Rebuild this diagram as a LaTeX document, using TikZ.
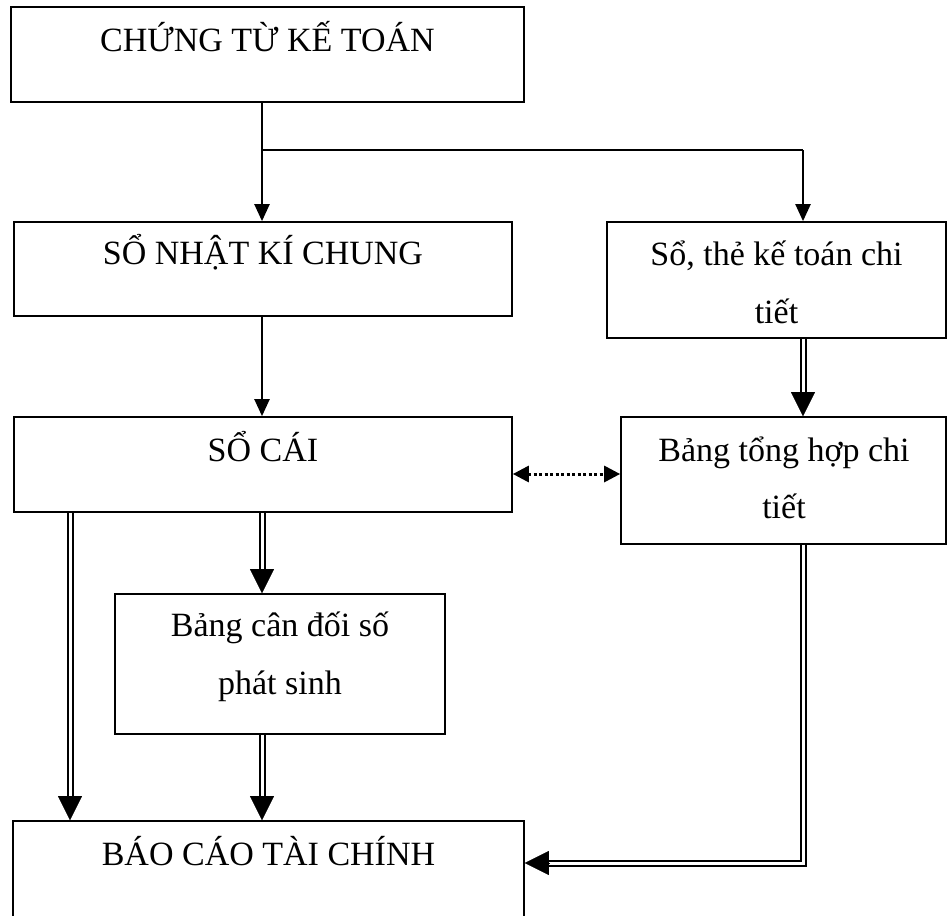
\documentclass[tikz,border=0pt]{standalone}
\usepackage{fontspec}
\setmainfont{Liberation Serif}
\usetikzlibrary{arrows.meta,calc}
\newcommand\dblarrow[2]{%
  \draw[dbl, shorten >=22pt] (#1) -- (#2);
  \draw[dtip] ($(#2)!24pt!(#1)$) -- (#2);}
\begin{document}
\begin{tikzpicture}[x=1pt,y=-1pt,
  box/.style={draw, line width=1.7pt, inner sep=0pt},
  txt/.style={anchor=base, font=\fontsize{34}{40}\selectfont, inner sep=0pt},
  sarrow/.style={line width=2.2pt, -{Triangle[length=17pt,width=15pt]}},
  dbl/.style={line width=2pt, double=white, double distance=3pt},
  dtip/.style={line width=0.1pt, -{Triangle[length=24pt,width=24pt]}},
  dotarrow/.style={line width=3pt, dash pattern=on 3pt off 2.5pt,
    {Triangle[length=16pt,width=16pt]}-{Triangle[length=16pt,width=16pt]}}]
\useasboundingbox (0,0) rectangle (947,915);
\clip (0,0) rectangle (947,915);

% boxes
\node[box, minimum width=513pt, minimum height=95pt] (b1) at (267.5,54.5) {};
\node[box, minimum width=498pt, minimum height=94pt] (b2) at (263,269) {};
\node[box, minimum width=339pt, minimum height=116pt] (b3) at (776.5,280) {};
\node[box, minimum width=498pt, minimum height=95pt] (b4) at (263,464.5) {};
\node[box, minimum width=325pt, minimum height=127pt] (b5) at (783.5,480.5) {};
\node[box, minimum width=330pt, minimum height=140pt] (b6) at (280,664) {};
\node[box, minimum width=511pt, minimum height=99pt] (b7) at (268.5,870.5) {};

% texts
\node[txt] (t1) at (267.5,52) {CHỨNG TỪ KẾ TOÁN};
\node[txt] (t2) at (263,264) {SỔ NHẬT KÍ CHUNG};
\node[txt] (t3a) at (776.5,265) {Sổ, thẻ kế toán chi};
\node[txt] (t3b) at (776.5,323) {tiết};
\node[txt] (t4) at (263,461) {SỔ CÁI};
\node[txt] (t5a) at (784,461) {Bảng tổng hợp chi};
\node[txt] (t5b) at (784,518) {tiết};
\node[txt] (t6a) at (280,636) {Bảng cân đối số};
\node[txt] (t6b) at (280,694) {phát sinh};
\node[txt] (t7) at (268.5,865) {BÁO CÁO TÀI CHÍNH};

% helper coordinates
\coordinate (cx) at (262,0);
\coordinate (rx) at (803,0);
\coordinate (lx) at (70,0);
\coordinate (jy) at (0,150);
\coordinate (dy) at (0,474);
\coordinate (hy) at (0,863);

% single arrows
\draw[sarrow] (b1.south -| cx) -- (b2.north -| cx);
\draw[line width=2.2pt] (cx |- jy) -- (rx |- jy);
\draw[sarrow] (rx |- jy) -- (b3.north -| rx);
\draw[sarrow] (b2.south -| cx) -- (b4.north -| cx);

% dotted double-headed arrow
\draw[dotarrow] (b4.east |- dy) -- (b5.west |- dy);

% double-line arrows
\dblarrow{b3.south -| rx}{b5.north -| rx}
\dblarrow{b4.south -| lx}{b7.north -| lx}
\dblarrow{b4.south -| cx}{b6.north -| cx}
\dblarrow{b6.south -| cx}{b7.north -| cx}
\draw[dbl, shorten >=22pt] (b5.south -| rx) |- (b7.east |- hy);
\draw[dtip] ($(b7.east |- hy)+(24,0)$) -- (b7.east |- hy);
\end{tikzpicture}
\end{document}
